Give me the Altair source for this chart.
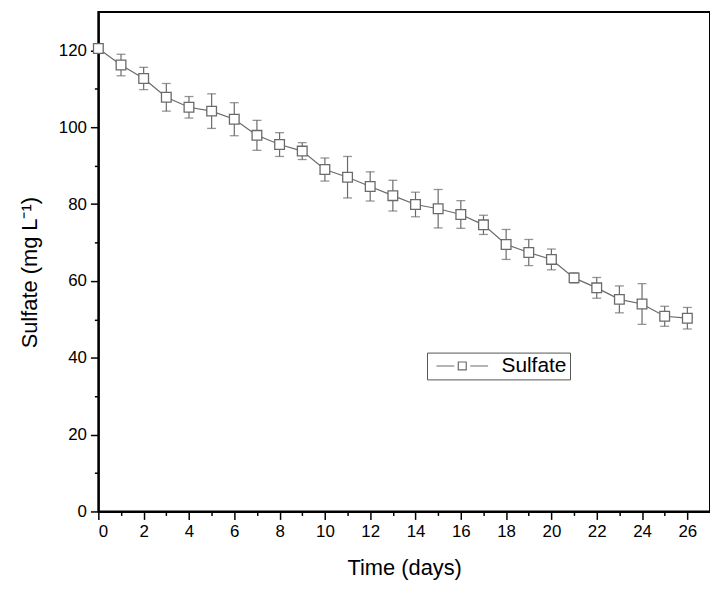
import altair as alt
import pandas as pd

# ---- data ----
days = list(range(27))
sulfate = [120.5, 116.2, 112.7, 107.8, 105.2, 104.2, 102.1, 97.9, 95.5, 93.8,
           89.0, 87.0, 84.6, 82.2, 79.9, 78.8, 77.3, 74.6, 69.5, 67.4,
           65.6, 60.8, 58.2, 55.2, 54.0, 50.8, 50.3]
sd = [1.0, 2.8, 2.9, 3.6, 2.8, 4.5, 4.3, 3.9, 3.1, 2.2,
      3.0, 5.4, 3.8, 4.0, 3.2, 5.0, 3.6, 2.5, 3.9, 3.4,
      2.7, 1.3, 2.7, 3.5, 5.3, 2.6, 2.8]
series = ["Sulfate"] * len(days)

x_major = list(range(0, 27, 2))
x_minor = list(range(1, 27, 2))
y_major = list(range(0, 121, 20))
y_minor = list(range(10, 121, 20))

df = pd.DataFrame({"day": days, "sulfate": sulfate, "sd": sd, "series": series})

FONT = "Liberation Sans"
GRAY = "#6a6a6a"

xscale = alt.Scale(domain=[0, 27], nice=False, zero=False)
yscale = alt.Scale(domain=[0, 130], nice=False)

common_axis = dict(tickColor="black", domainColor="black", domainWidth=2,
                   tickWidth=1.5, grid=False, labelColor="black",
                   labelFont=FONT, labelFontSize=17, titleFont=FONT,
                   titleFontSize=22, titleFontWeight="normal", titleColor="black")

x_axis_major = alt.Axis(orient="bottom", values=x_major, tickSize=8, labelPadding=4,
                        format="d", title="Time (days)", titleY=57,
                        titleBaseline="middle", **common_axis)
x_axis_minor = alt.Axis(orient="bottom", values=x_minor, tickSize=4, labels=False,
                        domain=False, title=None, tickColor="black", tickWidth=1.5,
                        grid=False)
y_axis_major = alt.Axis(orient="left", values=y_major, tickSize=8, labelPadding=4,
                        format="d", title="Sulfate (mg L\u207b\u00b9)", titleX=-69,
                        titleY=262, titleBaseline="middle", **common_axis)
y_axis_minor = alt.Axis(orient="left", values=y_minor, tickSize=4, labels=False,
                        domain=False, title=None, tickColor="black", tickWidth=1.5,
                        grid=False)

base = alt.Chart(df).transform_calculate(
    lo="datum.sulfate - datum.sd", hi="datum.sulfate + datum.sd"
)

line = base.mark_line(color=GRAY, strokeWidth=1.2).encode(
    x=alt.X("day:Q", scale=xscale, axis=x_axis_major),
    y=alt.Y("sulfate:Q", scale=yscale, axis=y_axis_major),
)

rules = base.mark_rule(color=GRAY, strokeWidth=1.2).encode(
    x=alt.X("day:Q", scale=xscale, axis=x_axis_minor),
    y=alt.Y("lo:Q", scale=yscale, axis=y_axis_minor),
    y2="hi:Q",
)

cap_lo = base.mark_tick(color=GRAY, thickness=1.3, size=9, orient="horizontal").encode(
    x=alt.X("day:Q", scale=xscale, axis=None),
    y=alt.Y("lo:Q", scale=yscale, axis=None),
)
cap_hi = base.mark_tick(color=GRAY, thickness=1.3, size=9, orient="horizontal").encode(
    x=alt.X("day:Q", scale=xscale, axis=None),
    y=alt.Y("hi:Q", scale=yscale, axis=None),
)

LEG_PATH = "M-6.5,0H-2M2,0H6.5M-1,-1H1V1H-1Z"

points = base.mark_point(shape="square", size=95, filled=False, fill="white",
                         fillOpacity=1, strokeWidth=1.3).encode(
    x=alt.X("day:Q", scale=xscale, axis=None),
    y=alt.Y("sulfate:Q", scale=yscale, axis=None),
    stroke=alt.Stroke("series:N", scale=alt.Scale(range=[GRAY]),
                      legend=alt.Legend(title=None, orient="none", legendX=331,
                                        legendY=343, strokeColor="#555555",
                                        padding=3, symbolType=LEG_PATH,
                                        symbolSize=64, symbolStrokeWidth=1.2,
                                        symbolFillColor="white", symbolOffset=22,
                                        labelOffset=29, labelFont=FONT,
                                        labelFontSize=21, labelColor="black")),
)

chart = alt.layer(line, rules, cap_lo, cap_hi, points).resolve_axis(
    x="independent", y="independent"
).properties(
    width=616, height=503,
    autosize=alt.AutoSizeParams(type="none"),
    padding={"left": 91, "top": 2, "right": 0, "bottom": 68},
    background="white",
).configure_view(stroke="black", strokeWidth=2)

chart.save("out.html", embed_options={"renderer": "svg", "actions": False})
